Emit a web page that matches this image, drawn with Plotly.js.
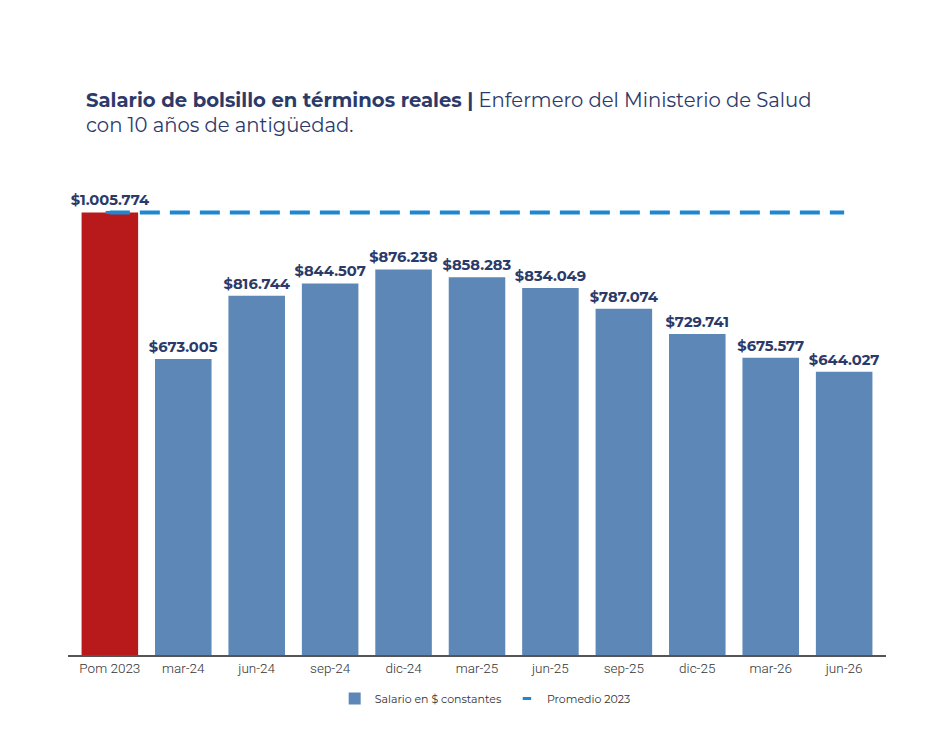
<!DOCTYPE html>
<html>
<head>
<meta charset="utf-8">
<script src="https://cdn.plot.ly/plotly-3.0.1.min.js"></script>
<style>
  html, body { margin: 0; padding: 0; background: #ffffff; }
  #chart { width: 937px; height: 750px; }
</style>
</head>
<body>
<div id="chart"></div>
<script>
// Periods (categories on the x axis)
const periods = ["Pom 2023", "mar-24", "jun-24", "sep-24", "dic-24", "mar-25", "jun-25", "sep-25", "dic-25", "mar-26", "jun-26"];

// Take-home salary in constant pesos
const salary = [1005774, 673005, 816744, 844507, 876238, 858283, 834049, 787074, 729741, 675577, 644027];

// 2023 average reference level
const average2023 = 1005774;

// Spanish style thousands separator: $1.005.774
function fmt(v) {
  return "$" + v.toString().replace(/\B(?=(\d{3})+(?!\d))/g, ".");
}

const labelFont = { family: "Montserrat, 'Open Sans', sans-serif", size: 14.7, color: "#2c3a6a", weight: 700 };

// 2023 average bar (red), kept out of the legend
const baseBar = {
  type: "bar",
  name: "Pom 2023",
  x: periods.slice(0, 1),
  y: salary.slice(0, 1),
  marker: { color: "#b8191a" },
  text: salary.slice(0, 1).map(fmt),
  textposition: "outside",
  constraintext: "none",
  cliponaxis: false,
  textfont: labelFont,
  showlegend: false,
  hoverinfo: "skip"
};

// Quarterly bars (blue)
const bars = {
  type: "bar",
  name: "Salario en $ constantes",
  x: periods.slice(1),
  y: salary.slice(1),
  marker: { color: "#5d87b6" },
  text: salary.slice(1).map(fmt),
  textposition: "outside",
  constraintext: "none",
  cliponaxis: false,
  textfont: labelFont,
  hoverinfo: "skip"
};

// Dashed reference line across the chart
const avgLine = {
  type: "scatter",
  mode: "lines",
  name: "Promedio 2023",
  x: [periods[0], periods[periods.length - 1]],
  y: [average2023, average2023],
  line: { color: "#1f87d0", width: 4, dash: "20px,10px" },
  showlegend: false,
  hoverinfo: "skip"
};

// Short dash used as the legend key for the average line
const avgKey = {
  type: "scatter",
  mode: "markers",
  name: "Promedio 2023",
  x: [periods[0]],
  y: [average2023],
  marker: { symbol: "line-ew", size: 6, color: "#1f87d0", line: { color: "#1f87d0", width: 3 } },
  hoverinfo: "skip"
};

const layout = {
  width: 937,
  height: 750,
  paper_bgcolor: "#ffffff",
  plot_bgcolor: "#ffffff",
  margin: { l: 68, r: 51, t: 193, b: 95 },
  barmode: "overlay",
  bargap: 0.23,
  showlegend: true,
  legend: {
    orientation: "h",
    x: 0.51, xanchor: "center",
    y: -0.063, yanchor: "top",
    font: { family: "Montserrat, 'Open Sans', sans-serif", size: 11, color: "#333333" },
    traceorder: "normal"
  },
  title: {
    text: "<b>Salario de bolsillo en términos reales |</b> Enfermero del Ministerio de Salud<br>con 10 años de antigüedad.",
    x: 86 / 937, xanchor: "left", xref: "container",
    y: 0.858, yanchor: "top", yref: "container",
    font: { family: "Montserrat, 'Open Sans', sans-serif", size: 19.6, color: "#2c3a6a" }
  },
  xaxis: {
    type: "category",
    range: [-0.57, 10.57],
    showline: true,
    linecolor: "#555555",
    linewidth: 2,
    ticks: "",
    tickfont: { family: "Roboto, sans-serif", size: 13.5, color: "#333333", weight: 300 },
    fixedrange: true
  },
  yaxis: {
    range: [0, 1050000],
    visible: false,
    showgrid: false,
    zeroline: false,
    fixedrange: true
  }
};

Plotly.newPlot("chart", [baseBar, bars, avgLine, avgKey], layout, { displayModeBar: false, staticPlot: true });
</script>
</body>
</html>
